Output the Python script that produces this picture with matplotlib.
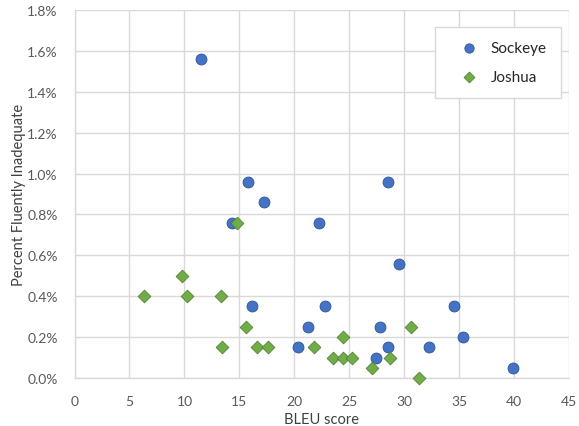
import matplotlib.pyplot as plt
from matplotlib.ticker import PercentFormatter

# BLEU score vs percent fluently inadequate
sockeye_bleu = [11.5, 15.8, 17.2, 14.3, 22.2, 16.1, 21.2, 20.3, 28.5, 29.5,
                22.8, 27.8, 28.5, 27.4, 32.2, 34.5, 35.3, 39.9]
sockeye_pct = [1.56, 0.96, 0.86, 0.76, 0.76, 0.35, 0.25, 0.15, 0.96, 0.56,
               0.35, 0.25, 0.15, 0.10, 0.15, 0.35, 0.20, 0.05]

joshua_bleu = [14.8, 9.8, 6.3, 10.2, 13.3, 15.6, 13.4, 16.6, 17.6, 21.8,
               24.4, 23.5, 24.4, 25.2, 27.1, 28.7, 30.6, 31.3]
joshua_pct = [0.76, 0.50, 0.40, 0.40, 0.40, 0.25, 0.15, 0.15, 0.15, 0.15,
              0.20, 0.10, 0.10, 0.10, 0.05, 0.10, 0.25, 0.00]

plt.rcParams['font.family'] = ['Lato', 'DejaVu Sans']

fig = plt.figure(figsize=(5.79, 4.27), dpi=100)
ax = fig.add_axes([0.1287, 0.1124, 0.8545, 0.8618])

ax.scatter(sockeye_bleu, sockeye_pct, marker='o', s=62, color='#4472c4',
           edgecolors='#2f5597', linewidths=0.6, label='Sockeye', zorder=3, clip_on=False)
ax.scatter(joshua_bleu, joshua_pct, marker='D', s=42, color='#70ad47',
           edgecolors='#548235', linewidths=0.6, label='Joshua', zorder=3, clip_on=False)

ax.set_xlim(0, 45)
ax.set_ylim(0, 1.8)
ax.set_xticks(range(0, 46, 5))
ax.set_yticks([i * 0.2 for i in range(10)])
ax.yaxis.set_major_formatter(PercentFormatter(decimals=1))

ax.grid(True, color='#d9d9d9', linewidth=1)
ax.set_axisbelow(True)
for side in ['top', 'right']:
    ax.spines[side].set_visible(False)
for side in ['left', 'bottom']:
    ax.spines[side].set_color('#d9d9d9')
    ax.spines[side].set_linewidth(1)
ax.tick_params(length=0, labelsize=10, labelcolor='#595959', pad=12)

ax.set_xlabel('BLEU score', fontsize=10.5, color='#404040', labelpad=4)
ax.set_ylabel('Percent Fluently Inadequate', fontsize=10.5, color='#404040', labelpad=1)

leg = ax.legend(loc='upper left', bbox_to_anchor=(435 / 579, 1 - 28 / 427),
                bbox_transform=fig.transFigure, borderaxespad=0, fontsize=11,
                frameon=True, fancybox=False, borderpad=0.9, labelspacing=1.0,
                handletextpad=0.15, handlelength=2.6, markerscale=0.85, framealpha=1)
leg.get_frame().set_edgecolor('#d9d9d9')
leg.get_frame().set_linewidth(1)
for t in leg.get_texts():
    t.set_color('#262626')

plt.savefig('out.png')
